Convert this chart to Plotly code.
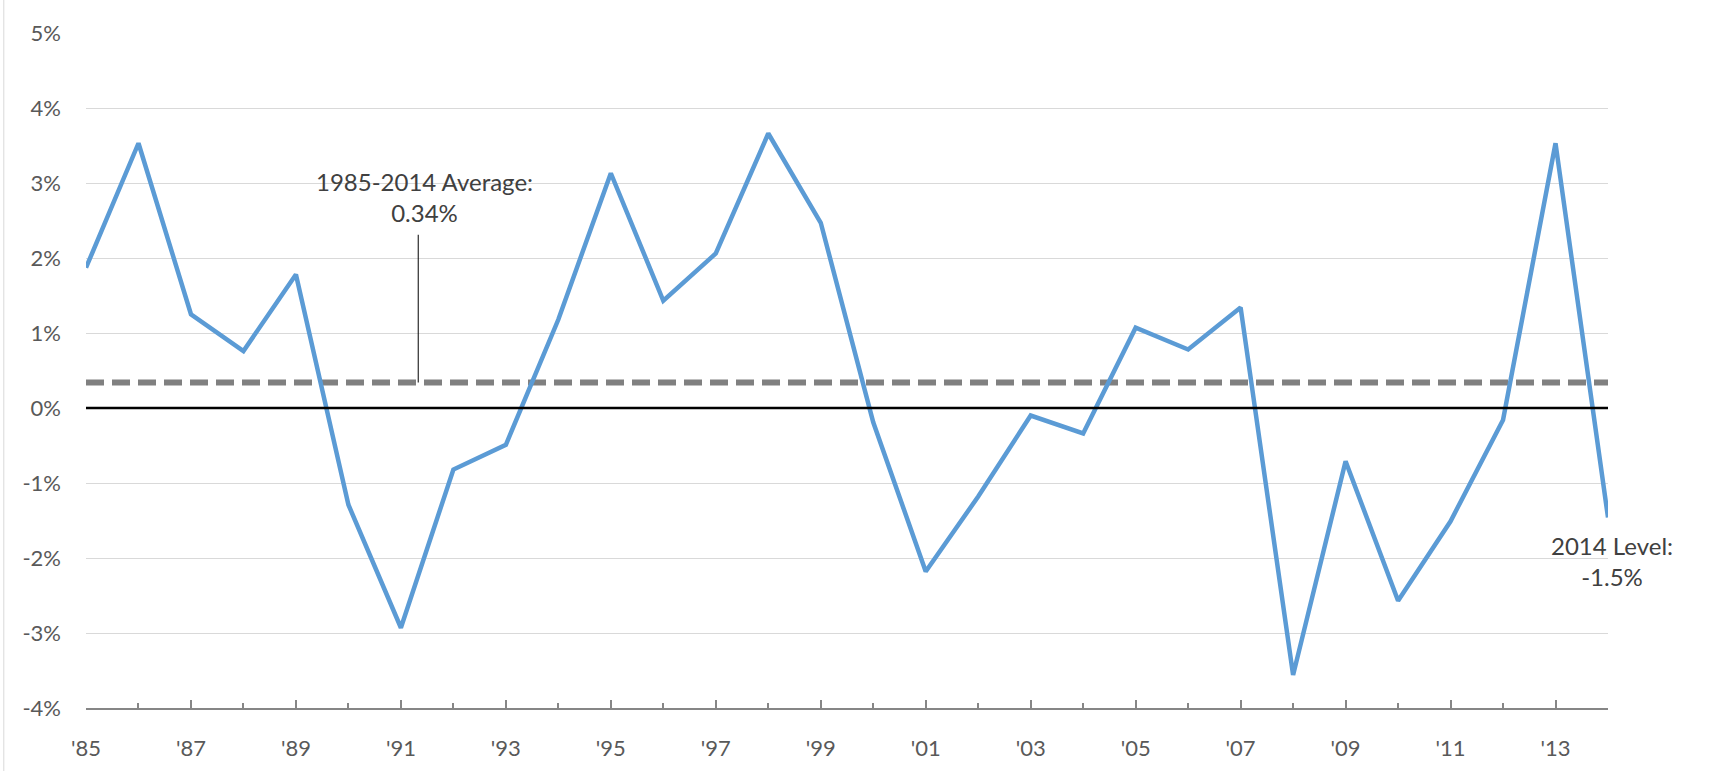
import plotly.graph_objects as go

years = list(range(1985, 2015))
values = [1.87, 3.53, 1.25, 0.76, 1.78, -1.29, -2.93, -0.82, -0.49, 1.18,
          3.13, 1.43, 2.06, 3.66, 2.47, -0.19, -2.18, -1.18, -0.10, -0.34,
          1.07, 0.78, 1.34, -3.56, -0.71, -2.57, -1.51, -0.16, 3.53, -1.46]
average = 0.34

x_tickvals = list(range(1985, 2014, 2))
x_ticktext = ["'85", "'87", "'89", "'91", "'93", "'95", "'97", "'99",
              "'01", "'03", "'05", "'07", "'09", "'11", "'13"]
y_tickvals = [5, 4, 3, 2, 1, 0, -1, -2, -3, -4]
y_ticktext = ["5%", "4%", "3%", "2%", "1%", "0%", "-1%", "-2%", "-3%", "-4%"]

avg_label = "1985-2014 Average:<br>0.34%"
end_label = "2014 Level:<br>-1.5%"

FONT = "Lato, 'Open Sans', sans-serif"
TXT = "#404040"

fig = go.Figure()

fig.add_trace(go.Scatter(
    x=[years[0], years[-1]], y=[average, average], mode="lines",
    line=dict(color="#808080", width=6, dash="18px,8px"),
    hoverinfo="skip", showlegend=False,
))
fig.add_trace(go.Scatter(
    x=years, y=values, mode="lines",
    line=dict(color="#5B9BD5", width=4.5),
    showlegend=False,
))

# zero line
fig.add_shape(type="line", xref="x", yref="y", x0=years[0], x1=years[-1], y0=0, y1=0,
              line=dict(color="black", width=2.5), layer="above")
# pointer for average label
fig.add_shape(type="line", xref="x", yref="y", x0=1991.33, x1=1991.33, y0=average, y1=2.31,
              line=dict(color="black", width=1))
# left border of chart area
fig.add_shape(type="line", xref="paper", yref="paper", x0=-0.054, x1=-0.054, y0=-0.1, y1=1.05,
              line=dict(color="#d9d9d9", width=1))

fig.add_annotation(x=1991.45, y=2.81, xref="x", yref="y", text=avg_label, showarrow=False,
                   font=dict(family=FONT, size=24, color=TXT), align="center",
                   xanchor="center", yanchor="middle")
fig.add_annotation(x=1.0, xshift=4, y=-2.04, xref="paper", yref="y", text=end_label, showarrow=False,
                   font=dict(family=FONT, size=24, color=TXT), align="center",
                   xanchor="center", yanchor="middle")

fig.update_layout(
    width=1729, height=771,
    margin=dict(l=86, r=121, t=33, b=63),
    paper_bgcolor="white", plot_bgcolor="white",
    font=dict(family=FONT, size=22, color="#595959"),
    hovermode=False,
)
fig.update_xaxes(
    range=[1985, 2014], tickvals=x_tickvals, ticktext=x_ticktext,
    showgrid=False, zeroline=False, automargin=False,
    showline=True, linecolor="#868686", linewidth=2,
    ticks="inside", ticklen=8, tickwidth=1.5, tickcolor="#868686",
    ticklabelstandoff=20,
    tickfont=dict(family=FONT, size=22, color="#595959"),
    minor=dict(dtick=1, tick0=1985, ticks="inside", ticklen=5, tickcolor="#868686", tickwidth=1.5, showgrid=False),
)
fig.update_yaxes(
    range=[-4, 5], tickvals=y_tickvals, ticktext=y_ticktext,
    showgrid=True, gridcolor="#d9d9d9", gridwidth=1,
    zeroline=False, showline=False, ticks="", automargin=False,
    ticklabelstandoff=24,
    tickfont=dict(family=FONT, size=22, color="#595959"),
)

fig.write_html("out.html", config={"displayModeBar": False},
               post_script="document.body.style.margin='0';document.body.style.overflow='hidden';")
